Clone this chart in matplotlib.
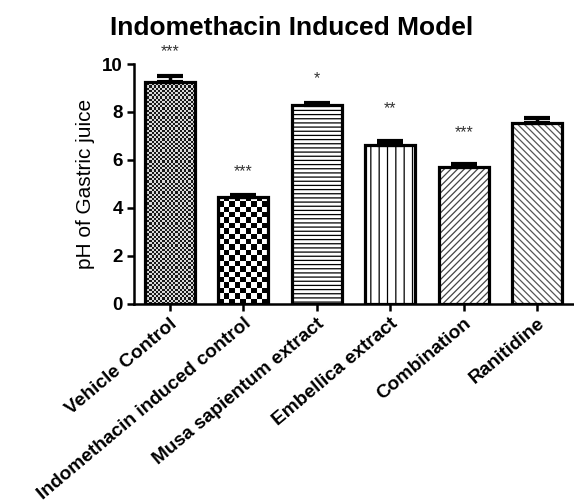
import numpy as np
import matplotlib
matplotlib.use("Agg")
import matplotlib.pyplot as plt
from matplotlib.transforms import ScaledTranslation

plt.rcParams['font.family'] = ['Liberation Sans', 'DejaVu Sans']
plt.rcParams['hatch.linewidth'] = 0.9

# data
groups = ['Vehicle Control', 'Indomethacin induced control', 'Musa sapientum extract',
          'Embellica extract', 'Combination', 'Ranitidine']
ph_mean = [9.26, 4.45, 8.29, 6.62, 5.69, 7.53]
ph_sem = [0.24, 0.09, 0.07, 0.16, 0.14, 0.24]
stars = ['***', '***', '*', '**', '***', '']
star_y = [10.5, 5.5, 9.4, 8.15, 7.15, 0]

fig = plt.figure(figsize=(5.74, 5.04), dpi=100)
ax = fig.add_axes([0.233, 0.397, 0.767, 0.476])

x = np.arange(len(groups))
w = 0.68

# fill styles: None -> checker image, otherwise hatch
hatches = [None, None, '----', '||', '/////', '\\\\\\\\\\']
hcolors = ['k', 'k', 'k', 'k', '#444444', '#555555']
checker_px = {0: 2.2, 1: 5.4}

bars = ax.bar(x, ph_mean, width=w, facecolor='white', edgecolor='black',
              linewidth=2.3, zorder=3, fill=False)
for i, b in enumerate(bars):
    if hatches[i] is not None:
        ax.bar(x[i], ph_mean[i], width=w, facecolor='white', edgecolor=hcolors[i],
               linewidth=0, hatch=hatches[i], zorder=2)
    else:
        cx = checker_px[i] / 73.5
        cy = checker_px[i] / 24.0
        nx = max(1, int(round(w / cx)))
        ny = max(1, int(round(ph_mean[i] / cy)))
        grid = (np.add.outer(np.arange(ny), np.arange(nx)) % 2).astype(float)
        if i == 0:
            grid = grid * 0.75 + 0.1
        im = ax.imshow(grid, cmap='gray', vmin=0, vmax=1, interpolation='nearest',
                       extent=[x[i] - w / 2, x[i] + w / 2, 0, ny * cy], origin='lower',
                       aspect='auto', zorder=2)
        im.set_clip_path(b)

ax.errorbar(x, ph_mean, yerr=[np.zeros(len(x)), ph_sem], fmt='none', ecolor='black',
            elinewidth=2.5, capsize=9.5, capthick=3, zorder=4)

for i, s in enumerate(stars):
    if s:
        ax.text(x[i], star_y[i], s, ha='center', va='center', fontsize=11.5, color='#333333')

ax.set_xlim(-0.49, 5.5)
ax.set_ylim(0, 10)
ax.set_yticks([0, 2, 4, 6, 8, 10])
ax.set_xticks(x)
ax.set_xticklabels(groups, rotation=40, ha='right', rotation_mode='anchor',
                   fontsize=13.8, fontweight='bold')
shift = ScaledTranslation(-4 / 72, -2 / 72, fig.dpi_scale_trans)
for lab in ax.get_xticklabels():
    lab.set_transform(lab.get_transform() + shift)
for lab in ax.get_yticklabels():
    lab.set_fontweight('bold')
    lab.set_fontsize(13.5)
ax.tick_params(axis='both', direction='out', length=5, width=1.8, pad=3)
ax.spines['top'].set_visible(False)
ax.spines['right'].set_visible(False)
ax.spines['left'].set_linewidth(1.8)
ax.spines['bottom'].set_linewidth(1.8)
ax.set_ylabel('pH of Gastric juice', fontsize=15, labelpad=5)

fig.text(0.508, 0.93, 'Indomethacin Induced Model', ha='center', va='baseline',
         fontsize=19, fontweight='bold')

fig.savefig('out.png', dpi=100)
